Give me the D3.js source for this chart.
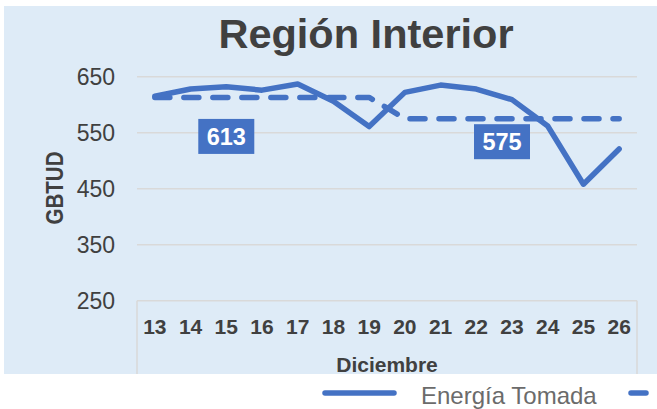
<!DOCTYPE html>
<html>
<head>
<meta charset="utf-8">
<script src="https://cdn.jsdelivr.net/npm/d3@7"></script>
<style>
  body { margin: 0; background: #fff; }
  svg { display: block; font-family: "Liberation Sans", Arial, sans-serif; }
</style>
</head>
<body>
<svg id="chart" width="657" height="409"></svg>
<script>
// Días de diciembre
const days = [13, 14, 15, 16, 17, 18, 19, 20, 21, 22, 23, 24, 25, 26];
// Energía tomada (GBTUD)
const tomada = [615, 628, 632, 626, 637, 606, 561, 622, 635, 628, 609, 562, 458, 521];
// Promedio por semana
const promedio = [613, 613, 613, 613, 613, 613, 613, 575, 575, 575, 575, 575, 575, 575];
// Etiquetas de promedio
const labelValues = [613, 575];
const labelDays = [15, 23];
const yTicks = [250, 350, 450, 550, 650];

const blue = "#4472C4";
const svg = d3.select("#chart");

// panel de fondo
svg.append("rect")
    .attr("x", 4).attr("y", 6)
    .attr("width", 653).attr("height", 368)
    .attr("fill", "#DEEBF7");

const x = d3.scaleBand().domain(days).range([137, 637]);
const y = d3.scaleLinear().domain([250, 650]).range([300.7, 76.7]);
const cx = (d) => x(d) + x.bandwidth() / 2;

// titulo
svg.append("text")
    .attr("x", 366).attr("y", 48)
    .attr("text-anchor", "middle")
    .attr("font-size", 41.5).attr("font-weight", "bold")
    .attr("fill", "#404040")
    .text("Región Interior");

// rejilla
svg.append("g").selectAll("line")
    .data(yTicks)
    .enter().append("line")
    .attr("x1", 137).attr("x2", 637)
    .attr("y1", (d) => y(d)).attr("y2", (d) => y(d))
    .attr("stroke", "#D9D9D9").attr("stroke-width", 1.5);

// caja del eje x
[137, 637].forEach((xx) => {
    svg.append("line")
        .attr("x1", xx).attr("x2", xx)
        .attr("y1", y(250)).attr("y2", 374)
        .attr("stroke", "#D9D9D9").attr("stroke-width", 1.5);
});

// etiquetas eje y
svg.append("g").selectAll("text")
    .data(yTicks)
    .enter().append("text")
    .attr("x", 115).attr("y", (d) => y(d) + 8)
    .attr("text-anchor", "end")
    .attr("font-size", 23)
    .attr("fill", "#404040")
    .text((d) => d);

// etiquetas eje x
svg.append("g").selectAll("text")
    .data(days)
    .enter().append("text")
    .attr("x", (d) => cx(d)).attr("y", 334)
    .attr("text-anchor", "middle")
    .attr("font-size", 21).attr("font-weight", "bold")
    .attr("fill", "#404040")
    .text((d) => d);

svg.append("text")
    .attr("x", 387).attr("y", 372)
    .attr("text-anchor", "middle")
    .attr("font-size", 21).attr("font-weight", "bold")
    .attr("fill", "#404040")
    .text("Diciembre");

svg.append("text")
    .attr("transform", "translate(63,188) rotate(-90)")
    .attr("text-anchor", "middle")
    .attr("font-size", 24).attr("font-weight", "bold")
    .attr("textLength", 73).attr("lengthAdjust", "spacingAndGlyphs")
    .attr("fill", "#404040")
    .text("GBTUD");

// series
const line = d3.line()
    .x((d, i) => cx(days[i]))
    .y((d) => y(d));

svg.append("path")
    .datum(promedio)
    .attr("d", line)
    .attr("fill", "none")
    .attr("stroke", blue).attr("stroke-width", 5.5)
    .attr("stroke-linecap", "round").attr("stroke-linejoin", "round")
    .attr("stroke-dasharray", "15,14");

svg.append("path")
    .datum(tomada)
    .attr("d", line)
    .attr("fill", "none")
    .attr("stroke", blue).attr("stroke-width", 5.5)
    .attr("stroke-linecap", "round").attr("stroke-linejoin", "round");

// etiquetas de datos
const labelOffsets = [39, 23];
labelValues.forEach((v, i) => {
    const lx = cx(labelDays[i]) - (i === 1 ? 10 : 0);
    const ly = y(v) + labelOffsets[i];
    svg.append("rect")
        .attr("x", lx - 28).attr("y", ly - 17.5)
        .attr("width", 56).attr("height", 35)
        .attr("fill", blue);
    svg.append("text")
        .attr("x", lx).attr("y", ly + 8.5)
        .attr("text-anchor", "middle")
        .attr("font-size", 23.5).attr("font-weight", "bold")
        .attr("fill", "#fff")
        .text(v);
});

// leyenda
svg.append("line")
    .attr("x1", 325).attr("x2", 394)
    .attr("y1", 393).attr("y2", 393)
    .attr("stroke", blue).attr("stroke-width", 5.5)
    .attr("stroke-linecap", "round");
svg.append("text")
    .attr("x", 421).attr("y", 404)
    .attr("font-size", 24)
    .attr("fill", "#6B6B6B")
    .text("Energía Tomada");
svg.append("line")
    .attr("x1", 631).attr("x2", 700)
    .attr("y1", 393).attr("y2", 393)
    .attr("stroke", blue).attr("stroke-width", 5.5)
    .attr("stroke-linecap", "round")
    .attr("stroke-dasharray", "15,14");
</script>
</body>
</html>
